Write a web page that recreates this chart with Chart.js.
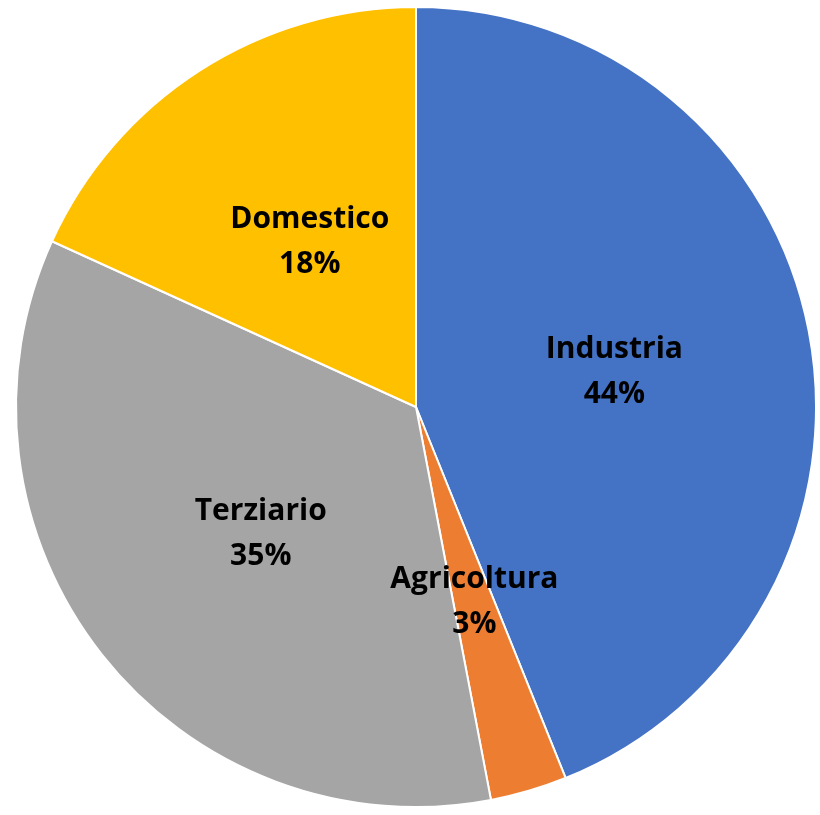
<!DOCTYPE html>
<html>
<head>
<meta charset="utf-8">
<script src="https://cdn.jsdelivr.net/npm/chart.js@4"></script>
<style>
  html, body { margin: 0; padding: 0; background: #fff; }
  #box { position: relative; width: 820px; height: 815px; }
</style>
</head>
<body>
<div id="box"><canvas id="grafico" width="820" height="815"></canvas></div>
<script>
// dati
const categorie = ["Industria", "Agricoltura", "Terziario", "Domestico"];
const valori = [43.9, 3.1, 34.8, 18.2];
const percentuali = ["44%", "3%", "35%", "18%"];
const colori = ["#4472C4", "#ED7D31", "#A5A5A5", "#FFC000"];

// ETICHETTE DENTRO LE FETTE
const etichette = {
    id: "etichette",
    afterDatasetsDraw(chart) {
        const c = chart.ctx;
        const meta = chart.getDatasetMeta(0);
        c.save();
        c.fillStyle = "#000";
        c.font = "bold 30px 'Open Sans'";
        c.textAlign = "center";
        c.textBaseline = "middle";
        meta.data.forEach((arc, i) => {
            const p = arc.tooltipPosition();
            c.fillText(categorie[i], p.x + 2, p.y - 19);
            c.fillText(percentuali[i], p.x + 2, p.y + 26);
        });
        c.restore();
    }
};

const ctx = document.getElementById("grafico").getContext("2d");
new Chart(ctx, {
    type: "pie",
    data: {
        labels: categorie,
        datasets: [{
            data: valori,
            backgroundColor: colori,
            borderColor: "#ffffff",
            borderWidth: 2
        }]
    },
    options: {
        responsive: false,
        animation: false,
        layout: { padding: { left: 14, right: 2, top: 6, bottom: 7 } },
        plugins: {
            legend: { display: false },
            tooltip: { enabled: false }
        }
    },
    plugins: [etichette]
});
</script>
</body>
</html>
